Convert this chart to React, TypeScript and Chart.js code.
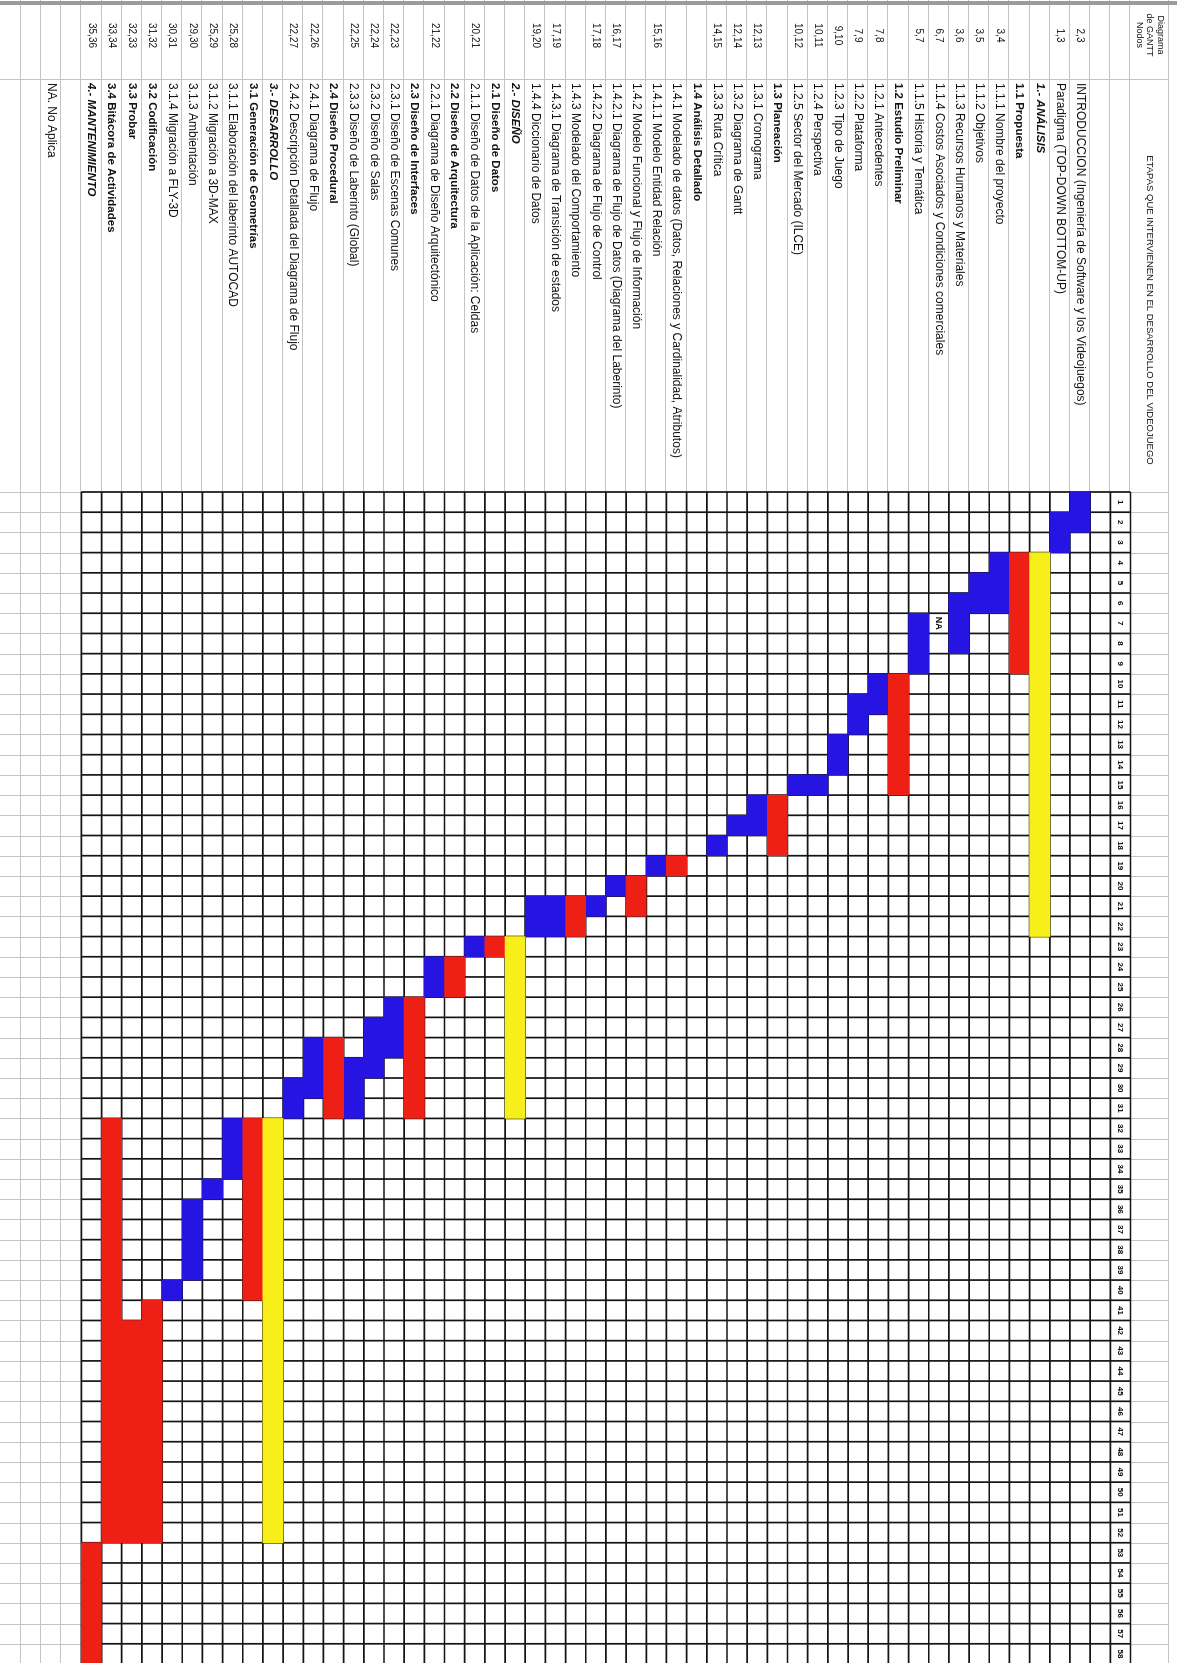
import React, { useEffect, useRef } from "react";
import { Chart, registerables } from "chart.js";

Chart.register(...registerables);

// ---------- data (one entry per spreadsheet row; row 0 holds the time numbers) ----------
const taskLabels: string[] = [
  "",
  "",
  "INTRODUCCION (Ingeniería de Software y los Videojuegos)",
  "Paradigma (TOP-DOWN BOTTOM-UP)",
  "1.- ANÁLISIS",
  "1.1 Propuesta",
  "1.1.1 Nombre del proyecto",
  "1.1.2 Objetivos",
  "1.1.3 Recursos Humanos y Materiales",
  "1.1.4 Costos Asociados y Condiciones comerciales",
  "1.1.5 Historia y Temática",
  "1.2 Estudio Preliminar",
  "1.2.1 Antecedentes",
  "1.2.2 Plataforma",
  "1.2.3 Tipo de Juego",
  "1.2.4 Perspectiva",
  "1.2.5 Sector del Mercado (ILCE)",
  "1.3 Planeación",
  "1.3.1 Cronograma",
  "1.3.2 Diagrama de Gantt",
  "1.3.3 Ruta Crítica",
  "1.4 Análisis Detallado",
  "1.4.1 Modelado de datos (Datos, Relaciones y Cardinalidad, Atributos)",
  "1.4.1.1 Modelo Entidad Relación",
  "1.4.2 Modelo Funcional y Flujo de Información",
  "1.4.2.1 Diagrama de Flujo de Datos (Diagrama del Laberinto)",
  "1.4.2.2 Diagrama de Flujo de Control",
  "1.4.3 Modelado del Comportamiento",
  "1.4.3.1 Diagrama de Transición de estados",
  "1.4.4 Diccionario de Datos",
  "2.- DISEÑO",
  "2.1 Diseño de Datos",
  "2.1.1 Diseño de Datos de la Aplicación: Celdas",
  "2.2 Diseño de Arquitectura",
  "2.2.1 Diagrama de Diseño Arquitectónico",
  "2.3 Diseño de Interfaces",
  "2.3.1 Diseño de Escenas Comunes",
  "2.3.2 Diseño de Salas",
  "2.3.3 Diseño de Laberinto (Global)",
  "2.4 Diseño Procedural",
  "2.4.1 Diagrama de Flujo",
  "2.4.2 Descripción Detallada del Diagrama de Flujo",
  "3.- DESARROLLO",
  "3.1 Generación de Geometrías",
  "3.1.1 Elaboración del laberinto AUTOCAD",
  "3.1.2 Migración a 3D-MAX",
  "3.1.3 Ambientación",
  "3.1.4 Migración a FLY-3D",
  "3.2 Codificación",
  "3.3 Probar",
  "3.4 Bitácora de Actividades",
  "4.- MANTENIMIENTO",
  "",
  "NA. No Aplica",
];

const nodeLabels: string[] = [
  "", "", "2,3", "1,3", "", "", "3,4", "3,5", "3,6", "6,7", "5,7", "",
  "7,8", "7,9", "9,10", "10,11", "10,12", "", "12,13", "12,14", "14,15", "",
  "", "15,16", "", "16,17", "17,18", "", "17,19", "19,20", "", "", "20,21", "",
  "21,22", "", "22,23", "22,24", "22,25", "", "22,26", "22,27", "", "",
  "25,28", "25,29", "29,30", "30,31", "31,32", "32,33", "33,34", "35,36", "", "",
];

const timeLabels: string[] = Array.from({ length: 58 }, (_, i) => String(i + 1));

type Span = [number, number] | null; // first and last time unit (inclusive)

// leaf tasks (blue)
const blueCells: Span[] = [
  null, null, [1, 2], [2, 3], null, null, [4, 6], [5, 6], [6, 8], null, [7, 9], null,
  [10, 11], [11, 12], [13, 14], [15, 15], [15, 15], null, [16, 17], [17, 17], [18, 18], null,
  null, [19, 19], null, [20, 20], [21, 21], null, [21, 22], [21, 22], null, null, [23, 23], null,
  [24, 25], null, [26, 28], [27, 29], [29, 31], null, [28, 30], [30, 31], null, null,
  [32, 34], [35, 35], [36, 39], [40, 40], null, null, null, null, null, null,
];

// sub-stages (red)
const redCells: Span[] = [
  null, null, null, null, null, [4, 9], null, null, null, null, null, [10, 15],
  null, null, null, null, null, [16, 18], null, null, null, null,
  [19, 19], null, [20, 21], null, null, [21, 22], null, null, null, [23, 23], null, [24, 25],
  null, [26, 31], null, null, null, [28, 31], null, null, null, [32, 40],
  null, null, null, null, [41, 52], [42, 52], [32, 52], [53, 58], null, null,
];

// main stages (yellow)
const yellowCells: Span[] = [
  null, null, null, null, [4, 22], null, null, null, null, null, null, null,
  null, null, null, null, null, null, null, null, null, null,
  null, null, null, null, null, null, null, null, [23, 31], null, null, null,
  null, null, null, null, null, null, null, null, [32, 52], null,
  null, null, null, null, null, null, null, null, null, null,
];

const naMarks: { row: number; cell: number; text: string }[] = [{ row: 9, cell: 7, text: "NA" }];

const headerNodes: string[] = ["Diagrama", "de GANTT", "Nodos"];
const headerTitle = "ETAPAS QUE INTERVIENEN EN EL DESARROLLO DEL VIDEOJUEGO";

// ---------- styling ----------
const FONT = "'Liberation Sans', Arial, sans-serif";
const BLUE = "#2614e2";
const RED = "#ee2016";
const YELLOW = "#f7ee1a";
const GRID_BLACK = "#141414";
const GRID_GRAY = "#c4c4c4";
const W = 1664;
const H = 1177;
const GRID_ROWS = 52; // rows 0..51 belong to the black grid
const NODES_W = 83;
const LABELS_W = 409;

const toData = (spans: Span[]) => spans.map((s) => (s ? [s[0] - 1, s[1]] : null));

const sheetPlugin = {
  id: "sheet",
  beforeDraw(chart: any) {
    const { ctx } = chart;
    const xs = chart.scales.x;
    const ys = chart.scales.y;
    const pitch = ys.getPixelForValue(1) - ys.getPixelForValue(0);
    const rowEdge = (k: number) => ys.getPixelForValue(0) - pitch / 2 + k * pitch;
    const gridLeft = xs.getPixelForValue(0);
    const gridBottom = rowEdge(GRID_ROWS);
    ctx.save();
    ctx.fillStyle = "#ffffff";
    ctx.fillRect(0, 0, W, H);
    ctx.strokeStyle = GRID_GRAY;
    ctx.lineWidth = 1;
    ctx.beginPath();
    // row boundaries in the label area and below the grid
    for (let k = 0; k <= taskLabels.length + 1; k++) {
      const y = Math.round(rowEdge(k)) + 0.5;
      ctx.moveTo(0, y);
      ctx.lineTo(k > GRID_ROWS ? W : gridLeft, y);
    }
    // time boundaries above and below the grid
    for (let k = 0; k <= timeLabels.length; k++) {
      const x = Math.round(xs.getPixelForValue(k)) + 0.5;
      ctx.moveTo(x, 8);
      ctx.lineTo(x, rowEdge(0));
      ctx.moveTo(x, gridBottom);
      ctx.lineTo(x, H);
    }
    ctx.moveTo(0, 8.5);
    ctx.lineTo(W, 8.5);
    ctx.moveTo(79.5, 8);
    ctx.lineTo(79.5, H);
    ctx.stroke();
    ctx.fillStyle = "#9a9a9a";
    ctx.fillRect(1, 0, 4, H);

    // header texts
    ctx.fillStyle = "#111";
    ctx.textAlign = "center";
    ctx.textBaseline = "middle";
    ctx.font = `9px ${FONT}`;
    headerNodes.forEach((t, i) => ctx.fillText(t, 35, 17 + i * 10.5));
    ctx.font = `9.5px ${FONT}`;
    ctx.fillText(headerTitle, 310, 27);
    ctx.restore();
  },
  beforeDatasetsDraw(chart: any) {
    const { ctx } = chart;
    const xs = chart.scales.x;
    const ys = chart.scales.y;
    const pitch = ys.getPixelForValue(1) - ys.getPixelForValue(0);
    const rowEdge = (k: number) => ys.getPixelForValue(0) - pitch / 2 + k * pitch;
    const left = xs.getPixelForValue(0);
    const right = xs.getPixelForValue(timeLabels.length);
    ctx.save();
    ctx.strokeStyle = GRID_BLACK;
    ctx.lineWidth = 1.7;
    ctx.beginPath();
    for (let k = 0; k <= GRID_ROWS; k++) {
      const y = rowEdge(k);
      ctx.moveTo(left, y);
      ctx.lineTo(right, y);
    }
    for (let k = 0; k <= timeLabels.length; k++) {
      const x = xs.getPixelForValue(k);
      ctx.moveTo(x, rowEdge(0));
      ctx.lineTo(x, rowEdge(GRID_ROWS));
    }
    ctx.stroke();
    // time numbers in the first grid row
    ctx.fillStyle = "#000";
    ctx.textAlign = "center";
    ctx.textBaseline = "middle";
    ctx.font = `bold 8px ${FONT}`;
    timeLabels.forEach((t, i) => ctx.fillText(t, xs.getPixelForValue(i + 0.5), ys.getPixelForValue(0)));
    ctx.font = `bold 9px ${FONT}`;
    naMarks.forEach((m) => ctx.fillText(m.text, xs.getPixelForValue(m.cell - 0.5), ys.getPixelForValue(m.row)));
    ctx.restore();
  },
};

const labelFont = (ctx: any) => {
  const t = taskLabels[ctx.index] || "";
  if (/^\d\.-/.test(t)) return { family: FONT, size: 11.5, weight: "bold" as const, style: "italic" as const };
  if (/^\d\.\d /.test(t)) return { family: FONT, size: 11.5, weight: "bold" as const };
  return { family: FONT, size: 12 };
};

const barDs = (label: string, spans: Span[], color: string) => ({
  label,
  data: toData(spans) as any,
  backgroundColor: color,
  borderWidth: 0,
  borderSkipped: false,
  barPercentage: 1,
  categoryPercentage: 1,
  grouped: false,
});

export default function App() {
  const ref = useRef<HTMLCanvasElement>(null);
  useEffect(() => {
    if (!ref.current) return;
    const chart = new Chart(ref.current, {
      type: "bar",
      data: {
        labels: taskLabels,
        datasets: [
          barDs("Etapa", yellowCells, YELLOW),
          barDs("Subetapa", redCells, RED),
          barDs("Actividad", blueCells, BLUE),
        ],
      },
      options: {
        indexAxis: "y",
        responsive: false,
        animation: false,
        events: [],
        layout: { padding: { top: 46.5, bottom: 18.1, left: 0, right: 0 } },
        plugins: { legend: { display: false }, tooltip: { enabled: false }, title: { display: false } },
        scales: {
          x: { type: "linear", min: 0, max: timeLabels.length, display: false },
          y: {
            type: "category",
            position: "left",
            offset: true,
            weight: 0,
            grid: { display: false, drawTicks: false },
            border: { display: false },
            ticks: { autoSkip: false, crossAlign: "far", padding: 0, color: "#111", font: labelFont as any },
            afterFit: (s: any) => {
              s.width = LABELS_W;
            },
          },
          yNodes: {
            type: "category",
            labels: nodeLabels,
            position: "left",
            offset: true,
            weight: 1,
            grid: { display: false, drawTicks: false },
            border: { display: false },
            ticks: { autoSkip: false, crossAlign: "center", padding: 35, color: "#111", font: { family: FONT, size: 10 } },
            afterFit: (s: any) => {
              s.width = NODES_W;
            },
          },
        } as any,
      },
      plugins: [sheetPlugin],
    });
    return () => chart.destroy();
  }, []);

  return (
    <div style={{ position: "absolute", left: 0, top: 0, width: H, height: W - 1, overflow: "hidden", background: "#fff" }}>
      <div
        style={{
          position: "absolute",
          left: 0,
          top: 0,
          width: W,
          height: H,
          transformOrigin: "0 0",
          transform: `translate(${H}px, 0px) rotate(90deg)`,
        }}
      >
        <canvas ref={ref} width={W} height={H} style={{ display: "block", width: W, height: H }} />
      </div>
    </div>
  );
}
